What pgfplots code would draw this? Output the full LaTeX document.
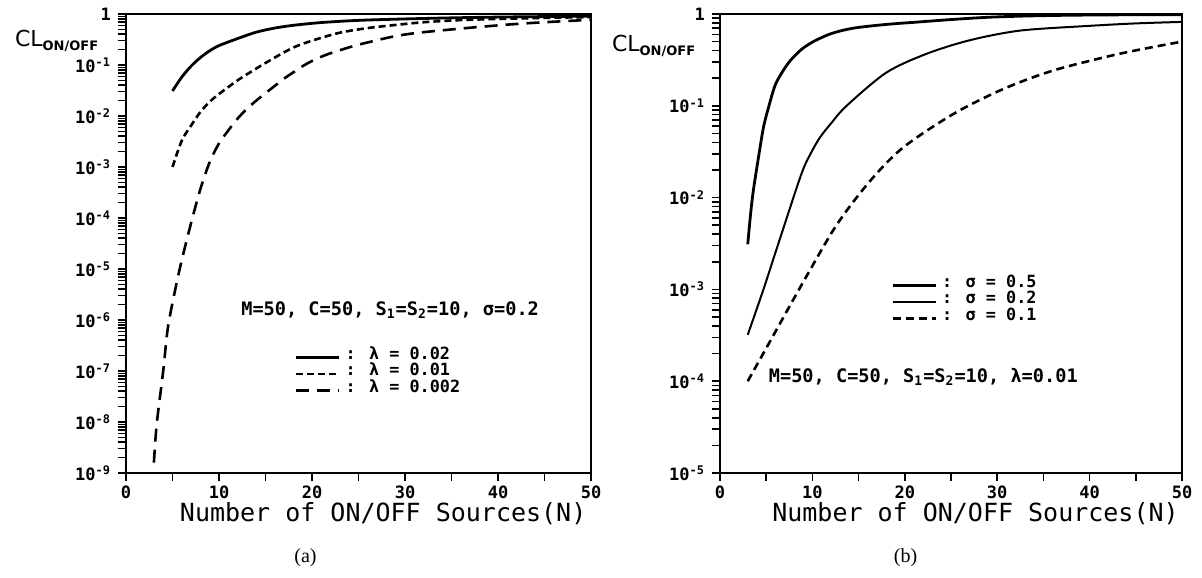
\documentclass[border=0pt]{standalone}
\usepackage{fontspec}
\setmainfont{DejaVu Sans Mono}
\newfontfamily\capfont{Liberation Serif}
\newfontfamily\clfont{DejaVu Sans}
\usepackage{pgfplots}
\pgfplotsset{compat=1.18}

\tikzset{
  note/.style={font=\fontsize{9.3}{9.3}\selectfont\bfseries},
  sol/.style={black, line width=1.4pt, smooth},
  thinsol/.style={black, line width=1.0pt, smooth},
  sdash/.style={black, line width=1.3pt, smooth, dash pattern=on 3.5pt off 2pt},
  mdash/.style={black, line width=1.3pt, smooth, dash pattern=on 4pt off 2.5pt},
  ldash/.style={black, line width=1.3pt, smooth, dash pattern=on 6.5pt off 4pt},
}

\begin{document}
\begin{tikzpicture}
\useasboundingbox (0,0) rectangle (601pt,288.5pt);

% (a)
\begin{axis}[at={(63pt,52pt)}, anchor=south west,
    scale only axis, width=232.5pt, height=229.5pt, ymode=log,
    xmin=0, xmax=50, ymin=1e-9, ymax=1,
    ytick={1e-9,1e-8,1e-7,1e-6,1e-5,1e-4,1e-3,1e-2,1e-1,1},
    axis line style={line width=1.2pt},
    tick align=outside, xtick pos=bottom, ytick pos=left,
    xtick={0,10,...,50}, minor xtick={5,15,...,45},
    major tick length=4pt, minor tick length=4pt,
    tick style={line width=0.8pt, black},
    tick label style={font=\fontsize{8.5}{8.5}\selectfont\bfseries},
    xticklabel style={inner sep=0pt, yshift=-2pt},
    xticklabels={0,10,20,30,40,50},
    yticklabels={10\textsuperscript{-9},10\textsuperscript{-8},10\textsuperscript{-7},10\textsuperscript{-6},10\textsuperscript{-5},10\textsuperscript{-4},10\textsuperscript{-3},10\textsuperscript{-2},10\textsuperscript{-1},1},
    xlabel={Number of ON/OFF Sources(N)},
    xlabel style={font=\fontsize{12.5}{12.5}\selectfont, inner sep=0pt, at={(axis description cs:0.553,0)}, anchor=base, yshift=-24pt},
    legend cell align=left,
    legend style={draw=none, fill=none, font=\fontsize{8.4}{8.4}\selectfont\bfseries,
      row sep=0pt, inner sep=0pt,
      nodes={inner ysep=0pt, inner xsep=2.5pt, text height=6pt, text depth=2.25pt},
      at={(axis description cs:0.362,0.275)}, anchor=north west},
    legend image code/.code={\draw[#1] (0pt,-1pt) -- (21.5pt,-1pt);}]
\addplot[sol] coordinates {
  (5,0.031) (6,0.058) (7,0.095) (8,0.14) (9,0.19) (10,0.24) (12,0.33)
  (14,0.44) (16,0.53) (18,0.60) (21,0.68) (25,0.75) (30,0.80) (35,0.84)
  (40,0.87) (45,0.89) (50,0.91)
};
\addlegendentry{: λ = 0.02}
\addplot[sdash] coordinates {
  (5,1.0e-3) (6,3.3e-3) (7,6.5e-3) (8,0.012) (9,0.019) (10,0.027) (12,0.05)
  (14,0.085) (16,0.14) (18,0.22) (20,0.30) (23,0.43) (26,0.53) (29,0.61)
  (32,0.69) (36,0.76) (40,0.80) (45,0.84) (50,0.87)
};
\addlegendentry{: λ = 0.01}
\addplot[ldash] coordinates {
  (3,1.6e-9) (3.3,9e-9) (4,1.0e-7) (4.5,7e-7) (5.3,4e-6) (6,1.5e-5) (7,8e-5)
  (8,3.7e-4) (9,1.25e-3) (10,2.9e-3) (11,5.2e-3) (12,8.9e-3) (13,0.0138)
  (14,0.020) (15,0.028) (16,0.039) (17,0.054) (18,0.072) (19,0.095)
  (20,0.12) (21.5,0.158) (23,0.195) (25,0.25) (28.7,0.36) (31.5,0.43)
  (36.6,0.53) (41.6,0.63) (45,0.69) (50,0.77)
};
\addlegendentry{: λ = 0.002}
\node[note] at (axis description cs:0.568,0.355)
  {M=50, C=50, S\textsubscript{1}=S\textsubscript{2}=10, σ=0.2};
\end{axis}

% (b)
\begin{axis}[at={(360pt,52pt)}, anchor=south west,
    scale only axis, width=231pt, height=229.5pt, ymode=log,
    xmin=0, xmax=50, ymin=1e-5, ymax=1,
    ytick={1e-5,1e-4,1e-3,1e-2,1e-1,1},
    axis line style={line width=1.2pt},
    tick align=outside, xtick pos=bottom, ytick pos=left,
    xtick={0,10,...,50}, minor xtick={5,15,...,45},
    major tick length=4pt, minor tick length=4pt,
    tick style={line width=0.8pt, black},
    tick label style={font=\fontsize{8.5}{8.5}\selectfont\bfseries},
    xticklabel style={inner sep=0pt, yshift=-2pt},
    xticklabels={0,10,20,30,40,50},
    yticklabels={10\textsuperscript{-5},10\textsuperscript{-4},10\textsuperscript{-3},10\textsuperscript{-2},10\textsuperscript{-1},1},
    xlabel={Number of ON/OFF Sources(N)},
    xlabel style={font=\fontsize{12.5}{12.5}\selectfont, inner sep=0pt, at={(axis description cs:0.553,0)}, anchor=base, yshift=-24pt},
    legend cell align=left,
    legend style={draw=none, fill=none, font=\fontsize{8.4}{8.4}\selectfont\bfseries,
      row sep=0pt, inner sep=0pt,
      nodes={inner ysep=0pt, inner xsep=2.5pt, text height=6pt, text depth=2.25pt},
      at={(axis description cs:0.370,0.432)}, anchor=north west},
    legend image code/.code={\draw[#1] (0pt,-1pt) -- (21.5pt,-1pt);}]
\addplot[sol] coordinates {
  (3,3.1e-3) (3.3,6.5e-3) (3.6,0.0118) (4.1,0.025) (4.7,0.058) (5.3,0.10)
  (5.95,0.166) (6.7,0.23) (7.6,0.31) (8.8,0.41) (10.1,0.50) (12,0.61)
  (14.4,0.70) (18,0.77) (21.6,0.82) (25,0.87) (28.9,0.92) (33,0.95)
  (38,0.97) (44,0.98) (50,0.985)
};
\addlegendentry{: σ = 0.5}
\addplot[thinsol] coordinates {
  (3,3.2e-4) (4.7,1.0e-3) (6.5,3.6e-3) (8.8,0.018) (9.8,0.030) (10.8,0.045)
  (12,0.064) (13.7,0.10) (18,0.23) (22.4,0.37) (27.1,0.52) (32.5,0.66)
  (39.7,0.74) (45,0.79) (50,0.82)
};
\addlegendentry{: σ = 0.2}
\addplot[mdash] coordinates {
  (3,1.0e-4) (5.4,2.7e-4) (9,1.2e-3) (12.6,5.0e-3) (16.2,0.015)
  (19.8,0.035) (25.3,0.082) (30.7,0.153) (36.1,0.243) (43.3,0.37)
  (50,0.50)
};
\addlegendentry{: σ = 0.1}
\node[note] at (axis description cs:0.44,0.209)
  {M=50, C=50, S\textsubscript{1}=S\textsubscript{2}=10, λ=0.01};
\end{axis}

% axis names and captions
\node[anchor=base west, font=\clfont\fontsize{11}{11}\selectfont] at (4pt,265pt)
  {CL\textsubscript{\fontsize{6.5}{6.5}\selectfont\bfseries ON/OFF}};
\node[anchor=base west, font=\clfont\fontsize{11}{11}\selectfont] at (302.5pt,262.5pt)
  {CL\textsubscript{\fontsize{6.5}{6.5}\selectfont\bfseries ON/OFF}};
\node[font=\capfont\fontsize{10}{10}\selectfont] at (152.75pt,9.5pt) {(a)};
\node[font=\capfont\fontsize{10}{10}\selectfont] at (452.75pt,9.5pt) {(b)};
\end{tikzpicture}
\end{document}
